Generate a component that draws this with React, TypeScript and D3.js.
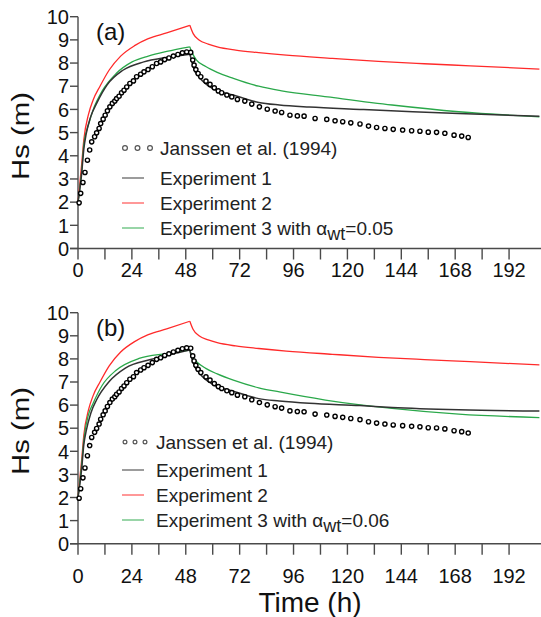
import React from "react";
import * as d3 from "d3";

// ---- data ----
const xTicks = [0, 12, 24, 36, 48, 60, 72, 84, 96, 108, 120, 132, 144, 156, 168, 180, 192];
const xTickLabels = [0, 24, 48, 72, 96, 120, 144, 168, 192];
const yTicks = [0, 1, 2, 3, 4, 5, 6, 7, 8, 9, 10];

// Janssen et al. (1994) observations
const obsTime = [0.5, 1.2, 2.2, 3.1, 4.2, 5.2, 6.1, 7.4, 8.3, 9.4, 10.1, 11.2, 12.1, 13.1, 14.2, 15.3, 16.4, 17.2, 18.3, 19.4, 20.5, 21.7, 23.1, 24.7, 26.1, 27.9, 29.4, 31.2, 33.1, 35.0, 36.8, 38.6, 40.5, 42.5, 44.5, 46.5, 48.4, 50.2,
  51.1, 51.7, 52.5, 53.5, 54.7, 57.0, 58.8, 60.7, 62.5, 64.0, 66.3, 68.5, 71.0, 74.3, 77.4, 80.8, 84.3, 87.8, 90.7, 94.4, 97.7, 100.7, 105.6, 110.8, 114.5, 117.9, 121.5, 125.6, 129.4, 133.0, 136.7, 140.4, 144.6, 148.6, 152.3, 156.0, 159.7, 163.4, 167.5, 170.9, 173.8];
const obsHs = [1.97, 2.38, 2.85, 3.28, 3.81, 4.25, 4.6, 4.82, 4.99, 5.18, 5.39, 5.58, 5.75, 5.94, 6.11, 6.26, 6.36, 6.47, 6.57, 6.72, 6.83, 6.97, 7.12, 7.23, 7.41, 7.52, 7.62, 7.72, 7.84, 7.98, 8.05, 8.15, 8.22, 8.3, 8.37, 8.44, 8.48, 8.46,
  8.13, 7.91, 7.72, 7.55, 7.41, 7.22, 7.08, 6.93, 6.8, 6.72, 6.62, 6.54, 6.43, 6.36, 6.23, 6.11, 6.01, 5.93, 5.87, 5.75, 5.72, 5.71, 5.61, 5.57, 5.51, 5.47, 5.42, 5.37, 5.28, 5.22, 5.18, 5.14, 5.11, 5.08, 5.06, 5.02, 5.01, 4.97, 4.89, 4.85, 4.79];

// Experiment 2 (red), same in both panels
const exp2Time = [0, 1.6, 2.6, 4.7, 6.7, 9.8, 13.9, 19, 25.2, 31.3, 39.5, 49.8, 51.3, 53.9, 58, 62, 70.2, 80.5, 92.8, 113.3, 133.8, 154.3, 174.7, 205.5];
const exp2Hs = [2.0, 3.6, 4.7, 5.8, 6.4, 7.0, 7.7, 8.3, 8.75, 9.05, 9.3, 9.63, 9.27, 9.0, 8.82, 8.7, 8.56, 8.45, 8.34, 8.2, 8.07, 7.97, 7.88, 7.74];

// Experiment 1 (black)
const exp1TimeA = [0, 1.6, 2.6, 3.65, 5.7, 8.3, 12.9, 20, 29.3, 39.5, 49.8, 50.8, 51.8, 53.9, 56.9, 60, 69.2, 80.5, 89.7, 103, 125.6, 149.1, 169.6, 205.5];
const exp1HsA = [2.0, 3.2, 4.3, 4.95, 5.7, 6.26, 7.05, 7.69, 8.05, 8.24, 8.38, 8.05, 7.7, 7.4, 7.1, 6.9, 6.62, 6.3, 6.19, 6.1, 6.0, 5.9, 5.82, 5.71];
const exp1TimeB = [0, 1.6, 2.6, 3.65, 5.7, 8.3, 13.9, 21.1, 32.3, 41.6, 49.8, 50.8, 51.8, 53.9, 56.9, 60, 69.2, 80.5, 89.7, 103, 125.6, 139.9, 169.6, 205.5];
const exp1HsB = [2.0, 3.2, 4.3, 4.88, 5.65, 6.23, 7.02, 7.6, 7.97, 8.2, 8.38, 8.0, 7.7, 7.4, 7.1, 6.9, 6.6, 6.28, 6.18, 6.08, 5.98, 5.9, 5.8, 5.74];

// Experiment 3 (green)
const exp3TimeA = [0, 1.6, 2.6, 4.7, 6.7, 10.8, 17, 24.1, 31.3, 39.5, 49.8, 50.8, 52.8, 56.9, 62, 69.2, 80.5, 90.7, 111.2, 139.9, 169.6, 205.5];
const exp3HsA = [2.0, 3.3, 4.5, 5.35, 5.97, 6.8, 7.55, 8.05, 8.3, 8.5, 8.7, 8.45, 8.13, 7.85, 7.6, 7.34, 7.0, 6.8, 6.54, 6.19, 5.9, 5.68];
const exp3TimeB = [0, 1.6, 2.6, 4.7, 6.7, 10.8, 17, 27.2, 39.5, 49.8, 50.8, 52.8, 56.9, 62, 69.2, 80.5, 89.7, 110.2, 139.9, 169.6, 205.5];
const exp3HsB = [2.0, 3.4, 4.5, 5.6, 6.07, 6.86, 7.51, 8.02, 8.23, 8.38, 8.1, 7.88, 7.59, 7.35, 7.08, 6.75, 6.57, 6.22, 5.86, 5.61, 5.46];

const seriesNames = ["Janssen et al. (1994)", "Experiment 1", "Experiment 2", "Experiment 3 with α"];
const alphaValues = ["0.05", "0.06"];
const panelLabels = ["(a)", "(b)"];

const FONT = "'Liberation Sans', Arial, Helvetica, sans-serif";
const RED = "#ff2a2a";
const GREEN = "#2aa84a";
const BLACK = "#333333";
const AXIS = "#4a4a4a";

const xScale = d3.scaleLinear().domain([0, 206]).range([78, 540.5]);
const PEAK = 49.8;

type Pt = [number, number];
const zip = (t: number[], v: number[]): Pt[] => t.map((d, i) => [d, v[i]]);

function Curve({ pts, y, color, width }: { pts: Pt[]; y: d3.ScaleLinear<number, number>; color: string; width: number }) {
  const line = d3.line<Pt>().x(d => xScale(d[0])).y(d => y(d[1])).curve(d3.curveMonotoneX);
  const rise = pts.filter(d => d[0] <= PEAK);
  const fall = pts.filter(d => d[0] >= PEAK);
  return (
    <g fill="none" stroke={color} strokeWidth={width} strokeLinejoin="round">
      <path d={line(rise) || ""} />
      <path d={line(fall) || ""} />
    </g>
  );
}

function Panel({ idx, y0, y10, exp1, exp3, legend, labelGap, ylabelY }: any) {
  const y = d3.scaleLinear().domain([0, 10]).range([y0, y10]);
  const obs = zip(obsTime, obsHs);
  const ax = xScale(0);
  const lx = legend.x;
  return (
    <g>
      {/* axes */}
      <line x1={ax} x2={ax} y1={y(0)} y2={y(10)} stroke={AXIS} strokeWidth={1.4} />
      <line x1={ax - 8} x2={541} y1={y(0)} y2={y(0)} stroke={AXIS} strokeWidth={1.4} />
      {yTicks.map(t => (
        <g key={"y" + t}>
          <line x1={ax - 8} x2={ax} y1={y(t)} y2={y(t)} stroke={AXIS} strokeWidth={1.4} />
          <text x={ax - 9} y={y(t)} dy="0.36em" textAnchor="end" fontSize={20} fontFamily={FONT} fill="#111">{t}</text>
        </g>
      ))}
      {xTicks.map(t => (
        <line key={"x" + t} x1={xScale(t)} x2={xScale(t)} y1={y(0)} y2={y(0) + 11} stroke={AXIS} strokeWidth={1.4} />
      ))}
      {xTickLabels.map(t => (
        <text key={"xl" + t} x={xScale(t)} y={y(0) + labelGap} dy="0.36em" textAnchor="middle" fontSize={20} fontFamily={FONT} fill="#111">{t}</text>
      ))}
      <text transform={`translate(29,${ylabelY}) rotate(-90)`} textAnchor="middle" fontSize={23} fontFamily={FONT} fill="#111"
        textLength={88} lengthAdjust="spacingAndGlyphs">Hs (m)</text>
      <text x={96} y={y(9.35)} dy="0.36em" fontSize={24} fontFamily={FONT} fill="#111">{panelLabels[idx]}</text>

      {/* curves */}
      <Curve pts={zip(exp2Time, exp2Hs)} y={y} color={RED} width={1.3} />
      <Curve pts={exp3} y={y} color={GREEN} width={1.3} />
      <Curve pts={exp1} y={y} color={BLACK} width={1.5} />
      {obs.map((d, i) => (
        <circle key={i} cx={xScale(d[0])} cy={y(d[1])} r={2.1} fill="#fff" stroke="#000" strokeWidth={1.4} />
      ))}

      {/* legend */}
      {legend.cx.map((cx: number, i: number) => (
        <circle key={"lc" + i} cx={cx} cy={legend.ys[0]} r={legend.r} fill="#fff" stroke="#555" strokeWidth={1.2} />
      ))}
      <text x={lx} y={legend.ys[0]} dy="0.36em" fontSize={19} fontFamily={FONT} fill="#222">{seriesNames[0]}</text>
      {[BLACK, RED, GREEN].map((c, i) => (
        <line key={"ll" + i} x1={122} x2={144} y1={legend.ys[i + 1]} y2={legend.ys[i + 1]} stroke={c} strokeWidth={1.2} opacity={0.8} />
      ))}
      <text x={lx} y={legend.ys[1]} dy="0.36em" fontSize={19} fontFamily={FONT} fill="#222">{seriesNames[1]}</text>
      <text x={lx} y={legend.ys[2]} dy="0.36em" fontSize={19} fontFamily={FONT} fill="#222">{seriesNames[2]}</text>
      <text x={lx} y={legend.ys[3]} dy="0.36em" fontSize={19} fontFamily={FONT} fill="#222">
        {seriesNames[3]}
        <tspan dy="5" fontSize={18}>wt</tspan>
        <tspan dy="-5">={alphaValues[idx]}</tspan>
      </text>
    </g>
  );
}

export default function App() {
  return (
    <div style={{ position: "absolute", left: 0, top: 0 }}>
      <svg width={541} height={617} style={{ display: "block", background: "#fff" }}>
        <Panel idx={0} y0={248.5} y10={16.7} labelGap={21} ylabelY={136}
          exp1={zip(exp1TimeA, exp1HsA)} exp3={zip(exp3TimeA, exp3HsA)}
          legend={{ x: 160, cx: [125, 137.5, 150], r: 2.4, ys: [148, 178, 203, 228] }} />
        <Panel idx={1} y0={543.7} y10={312.7} labelGap={32} ylabelY={431}
          exp1={zip(exp1TimeB, exp1HsB)} exp3={zip(exp3TimeB, exp3HsB)}
          legend={{ x: 156, cx: [125, 135, 145], r: 1.9, ys: [442, 470, 495, 520] }} />
        <text x={310} y={602} dy="0.36em" textAnchor="middle" fontSize={28} fontFamily={FONT} fill="#111">Time (h)</text>
      </svg>
    </div>
  );
}
